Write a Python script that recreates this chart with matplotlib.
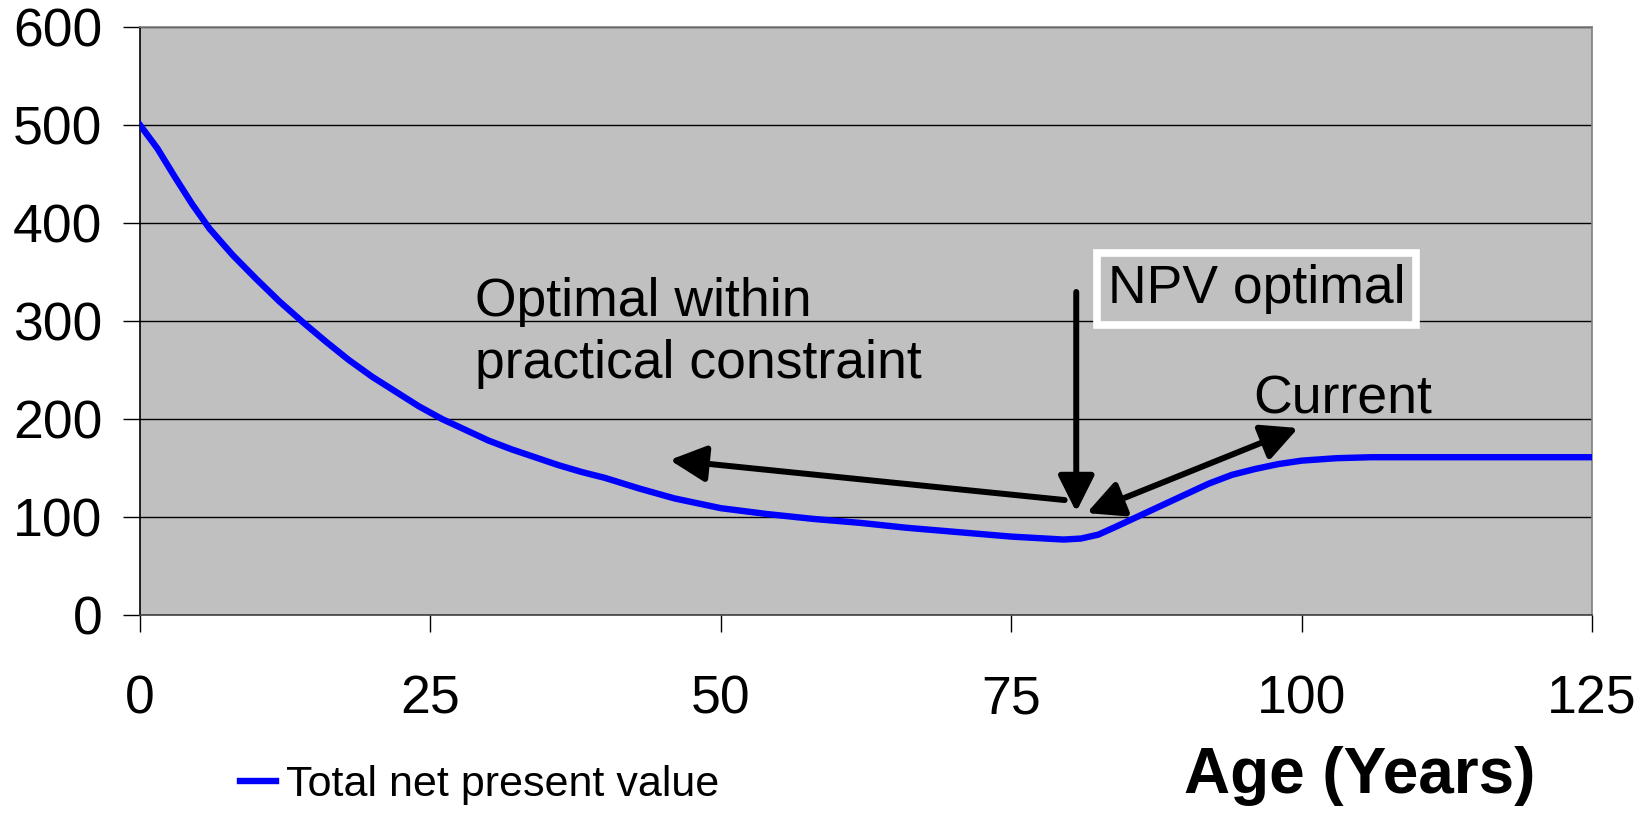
import matplotlib.pyplot as plt

# Datos (edad en anos, valor presente neto total)
edades = [0, 1.5, 3, 4.5, 6, 8, 10, 12, 14, 16, 18, 20, 22, 24, 26, 28, 30,
          32, 34, 36, 38, 40, 43, 46, 50, 54, 58, 62, 66, 70, 75, 79.5, 81,
          82.5, 84, 86, 88, 90, 92, 94, 96, 98, 100, 103, 106, 125]
vpn_total = [500, 476, 447, 419, 394, 367, 343, 320, 299, 279, 260, 243, 228,
             213, 200, 189, 178, 169, 161, 153, 146, 140, 129, 119, 109, 103,
             98, 94, 89, 85, 80, 77, 78, 82, 90, 101, 112, 123, 134, 143, 149,
             154, 157.5, 160, 161, 161]

x_ticks = [0, 25, 50, 75, 100, 125]
y_ticks = [0, 100, 200, 300, 400, 500, 600]

etiqueta_serie = "Total net present value"
etiqueta_x = "Age (Years)"

# Textos de anotacion: (texto, edad, valor)
texto_practico = ("Optimal within\npractical constraint", 28.8, 241.8)
texto_npv = ("NPV optimal", 83.3, 318.5)
texto_actual = ("Current", 95.85, 206)

# Flechas: (punta, cola, estilo)
flechas = [
    ((45.6, 158.2), (79.6, 117.3), '-|>'),
    ((80.6, 105.1), (80.6, 329.6), '-|>'),
    ((99.7, 190.8), (81.5, 104.0), '<|-|>'),
]

plt.rcParams['font.family'] = ['Liberation Sans', 'DejaVu Sans']

fig = plt.figure(figsize=(16.5, 8.13), dpi=100)
ax = fig.add_axes([140 / 1650, 198 / 813, 1452 / 1650, 588 / 813])
ax.set_facecolor('#C0C0C0')

# Serie principal
ax.plot(edades, vpn_total, color='#0000FF', lw=4.6, label=etiqueta_serie,
        solid_joinstyle='round', zorder=3)

ax.set_xlim(0, 125)
ax.set_ylim(0, 600)
ax.set_xticks(x_ticks)
ax.set_yticks(y_ticks)

# Rejilla horizontal
ax.yaxis.grid(True, color='black', lw=1.0)
ax.set_axisbelow(True)

ax.tick_params(axis='both', direction='out', length=12, width=1,
               labelsize=38.5, color='black')
ax.tick_params(axis='x', pad=31)
ax.tick_params(axis='y', pad=15)

ax.spines['left'].set_color('black')
ax.spines['bottom'].set_color('#404040')
ax.spines['top'].set_color('#808080')
ax.spines['right'].set_color('#808080')
for s in ax.spines.values():
    s.set_linewidth(1.2)

# Flechas de anotacion
for punta, cola, estilo in flechas:
    ax.annotate('', xy=punta, xytext=cola,
                arrowprops=dict(arrowstyle=f'{estilo},head_length=1.1,head_width=0.55',
                                mutation_scale=20, lw=4.3, color='black',
                                shrinkA=0, shrinkB=0), zorder=4)

# Textos
ax.text(texto_practico[1], texto_practico[2], texto_practico[0], fontsize=38.5,
        ha='left', va='baseline', linespacing=1.3)
ax.text(texto_npv[1], texto_npv[2], texto_npv[0], fontsize=38.5,
        ha='left', va='baseline',
        bbox=dict(boxstyle='square,pad=0.2', fc='#C0C0C0', ec='white', lw=5.5))
ax.text(texto_actual[1], texto_actual[2], texto_actual[0], fontsize=38.5,
        ha='left', va='baseline')

# Titulo del eje x
fig.text(1360 / 1650, 20 / 813, etiqueta_x, fontsize=46, fontweight='bold',
         ha='center', va='baseline')

# Leyenda
ax.legend(loc='center left', bbox_to_anchor=(240 / 1650, 28 / 813),
          bbox_transform=fig.transFigure, frameon=False,
          prop={'size': 31},
          handlelength=0.84, handletextpad=0.22, borderpad=0, borderaxespad=0)

fig.savefig('out.png', dpi=100)
